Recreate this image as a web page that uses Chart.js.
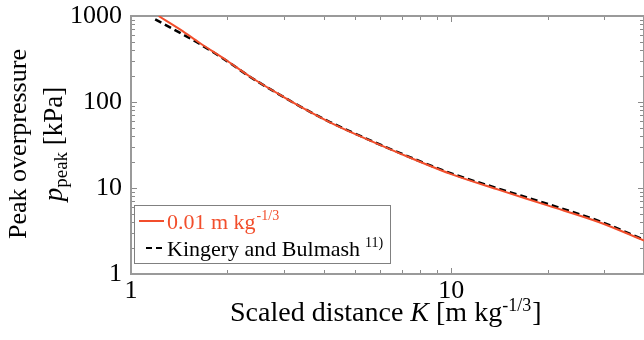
<!DOCTYPE html>
<html>
<head>
<meta charset="utf-8">
<script src="https://cdn.jsdelivr.net/npm/chart.js@4"></script>
<style>
html, body { margin: 0; padding: 0; background: #fff; }
#wrap { width: 644px; height: 340px; }
</style>
</head>
<body>
<div id="wrap"><canvas id="blastChart"></canvas></div>
<script>
// scaled distance K [m kg^-1/3] and peak overpressure [kPa]
const simDistance = [1.22, 1.43, 1.64, 2.0, 2.35, 3.0, 3.37, 4.18, 5.0, 6.9, 9.9, 14.1, 20.2, 29.0, 40];
const simPressure = [1000, 690, 485, 300, 198, 114, 89, 58, 42.5, 25.3, 14.7, 9.5, 6.2, 4.0, 2.45];
const kbDistance = [1.19, 1.43, 1.64, 2.0, 2.35, 3.0, 3.37, 4.18, 5.0, 6.9, 9.9, 14.1, 20.2, 29.0, 40];
const kbPressure = [915, 630, 472, 297, 197, 114, 89, 58.5, 43, 25.6, 15.0, 9.8, 6.45, 4.12, 2.5];

const xTicks = [1, 2, 3, 4, 5, 6, 7, 8, 9, 10, 20, 30, 40];
const xTickLabels = [1, 10];
const yTicks = [1, 2, 3, 4, 5, 6, 7, 8, 9, 10, 20, 30, 40, 50, 60, 70, 80, 90,
    100, 200, 300, 400, 500, 600, 700, 800, 900, 1000];
const yTickLabels = [1, 10, 100, 1000];

const red = '#f24e2c';
const serif = '"Liberation Serif", "Times New Roman", serif';

function toPoints(xs, ys) {
    return xs.map((x, i) => ({ x: x, y: ys[i] }));
}

function noPad(scale) {
    scale.paddingTop = 0;
    scale.paddingBottom = 0;
    scale.paddingLeft = 0;
    scale.paddingRight = 0;
}

// inward ticks on all four sides + grey frame, legend and axis titles
const framePlugin = {
    id: 'frame',
    beforeDatasetsDraw(chart) {
        const ctx = chart.ctx;
        const a = chart.chartArea;
        const sx = chart.scales.x, sy = chart.scales.y;
        ctx.save();
        ctx.strokeStyle = '#8a8a8a';
        ctx.lineWidth = 1;
        xTicks.forEach(v => {
            const px = Math.round(sx.getPixelForValue(v)) + 0.5;
            const len = xTickLabels.includes(v) ? 6 : 4;
            ctx.beginPath();
            ctx.moveTo(px, a.bottom); ctx.lineTo(px, a.bottom - len);
            ctx.moveTo(px, a.top); ctx.lineTo(px, a.top + len);
            ctx.stroke();
        });
        yTicks.forEach(v => {
            const py = Math.round(sy.getPixelForValue(v)) + 0.5;
            const len = yTickLabels.includes(v) ? 6 : 4;
            ctx.beginPath();
            ctx.moveTo(a.left, py); ctx.lineTo(a.left + len, py);
            ctx.moveTo(a.right, py); ctx.lineTo(a.right - len, py);
            ctx.stroke();
        });
        ctx.lineWidth = 2;
        ctx.strokeStyle = '#9a9a9a';
        ctx.strokeRect(a.left, a.top, a.right - a.left, a.bottom - a.top);
        ctx.restore();
    },
    afterDraw(chart) {
        const ctx = chart.ctx;
        ctx.save();
        ctx.textBaseline = 'alphabetic';
        ctx.textAlign = 'left';

        // legend
        ctx.fillStyle = '#fff';
        ctx.fillRect(134.5, 205.5, 256, 58);
        ctx.strokeStyle = '#808080';
        ctx.lineWidth = 1;
        ctx.strokeRect(134.5, 205.5, 256, 58);

        ctx.strokeStyle = red;
        ctx.lineWidth = 2;
        ctx.beginPath(); ctx.moveTo(139, 221); ctx.lineTo(164, 221); ctx.stroke();
        ctx.strokeStyle = '#000';
        ctx.lineWidth = 2;
        ctx.setLineDash([6, 4]);
        ctx.beginPath(); ctx.moveTo(146, 248); ctx.lineTo(165, 248); ctx.stroke();
        ctx.setLineDash([]);

        ctx.font = '22px ' + serif;
        ctx.fillStyle = red;
        let t = '0.01 m kg';
        ctx.fillText(t, 167, 229);
        let w = ctx.measureText(t).width;
        ctx.font = '14px ' + serif;
        ctx.fillText('-1/3', 167 + w + 1, 220);

        ctx.fillStyle = '#000';
        ctx.font = '22px ' + serif;
        t = 'Kingery and Bulmash';
        ctx.fillText(t, 167, 256);
        w = ctx.measureText(t).width;
        ctx.font = '14px ' + serif;
        ctx.fillText('11)', 167 + w + 5, 247);

        // x title
        let x = 230;
        const base = 321;
        const parts = [
            ['Scaled distance ', '28px ' + serif, 0],
            ['K', 'italic 28px ' + serif, 0],
            [' [m kg', '28px ' + serif, 0],
            ['-1/3', '18px ' + serif, -10],
            [']', '28px ' + serif, 0]
        ];
        parts.forEach(p => {
            ctx.font = p[1];
            ctx.fillText(p[0], x, base + p[2]);
            x += ctx.measureText(p[0]).width + (p[2] ? 1 : 0);
        });

        // y title (rotated)
        ctx.translate(26, 144);
        ctx.rotate(-Math.PI / 2);
        ctx.font = '26px ' + serif;
        ctx.textAlign = 'center';
        ctx.fillText('Peak overpressure', 0, 0);
        ctx.textAlign = 'left';
        const line2 = [
            ['p', 'italic 27px ' + serif, 0],
            ['peak', '19px ' + serif, 5],
            [' [kPa]', '27px ' + serif, 0]
        ];
        let total = 0;
        line2.forEach(p => { ctx.font = p[1]; total += ctx.measureText(p[0]).width; });
        let yx = -total / 2;
        line2.forEach(p => {
            ctx.font = p[1];
            ctx.fillText(p[0], yx, 36 + p[2]);
            yx += ctx.measureText(p[0]).width;
        });
        ctx.restore();
    }
};

new Chart(document.getElementById('blastChart'), {
    type: 'line',
    data: {
        datasets: [{
            label: '0.01 m kg-1/3',
            data: toPoints(simDistance, simPressure),
            borderColor: red,
            borderWidth: 2,
            pointRadius: 0,
            cubicInterpolationMode: 'monotone'
        }, {
            label: 'Kingery and Bulmash 11)',
            data: toPoints(kbDistance, kbPressure),
            borderColor: '#000',
            borderWidth: 2.5,
            borderDash: [7, 4],
            pointRadius: 0,
            cubicInterpolationMode: 'monotone'
        }]
    },
    options: {
        responsive: true,
        maintainAspectRatio: false,
        animation: false,
        layout: { padding: { top: 16, right: 0, left: 0, bottom: 0 } },
        plugins: {
            legend: { display: false },
            tooltip: { enabled: false }
        },
        scales: {
            x: {
                type: 'logarithmic',
                min: 1,
                max: 40,
                afterBuildTicks: scale => { scale.ticks = xTicks.map(v => ({ value: v })); },
                afterFit: scale => { scale.height = 66; noPad(scale); },
                grid: { display: false, drawTicks: false },
                border: { display: false },
                ticks: {
                    autoSkip: false,
                    maxRotation: 0,
                    padding: 2,
                    color: '#000',
                    font: { family: serif, size: 26 },
                    callback: v => xTickLabels.includes(v) ? String(v) : ''
                }
            },
            y: {
                type: 'logarithmic',
                min: 1,
                max: 1000,
                afterBuildTicks: scale => { scale.ticks = yTicks.map(v => ({ value: v })); },
                afterFit: scale => { scale.width = 131; noPad(scale); },
                grid: { display: false, drawTicks: false },
                border: { display: false },
                ticks: {
                    autoSkip: false,
                    padding: 9,
                    color: '#000',
                    font: { family: serif, size: 26 },
                    callback: v => yTickLabels.includes(v) ? String(v) : ''
                }
            }
        }
    },
    plugins: [framePlugin]
});
</script>
</body>
</html>
